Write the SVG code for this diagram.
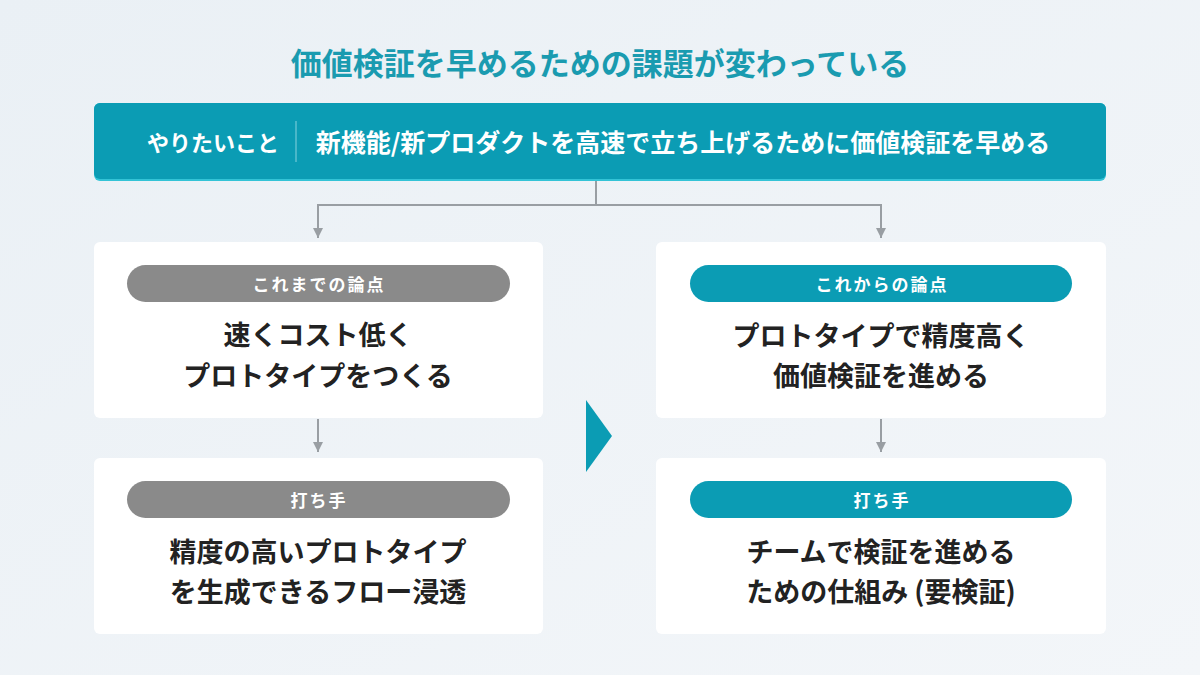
<svg xmlns="http://www.w3.org/2000/svg" width="1200" height="675" viewBox="0 0 1200 675">
<defs>
<linearGradient id="bg" x1="0" y1="0" x2="1" y2="1">
<stop offset="0" stop-color="#eaf0f5"/>
<stop offset="1" stop-color="#f3f6f9"/>
</linearGradient>
<marker id="ah" viewBox="0 0 10 10" refX="10" refY="5" markerWidth="10" markerHeight="10" markerUnits="userSpaceOnUse" orient="auto">
<path d="M0,0 L10,5 L0,10 Z" fill="#999ea3"/>
</marker>
<style>
text{font-family:"Noto Sans CJK JP","Noto Sans",sans-serif;font-weight:700;text-anchor:middle;dominant-baseline:central}
.card{fill:#ffffff}
.pill-gray{fill:#8a8a8a}
.pill-teal{fill:#0b9cb4}
.pill-text{fill:#ffffff;font-size:17px;letter-spacing:2px}
.main{fill:#222222;font-size:27px}
.conn{fill:none;stroke:#999ea3;stroke-width:2}
</style>
</defs>
<rect width="1200" height="675" fill="url(#bg)"/>
<text x="600" y="61" fill="#1a9bb0" font-size="31">価値検証を早めるための課題が変わっている</text>
<g id="goal">
<rect x="94" y="103" width="1012" height="78" rx="6" fill="#33c3d6"/>
<rect x="94" y="103" width="1012" height="76" rx="6" fill="#0b9cb4"/>
<text x="213" y="141" fill="#ffffff" font-size="22">やりたいこと</text>
<line x1="296" y1="121" x2="296" y2="162" stroke="#5fc0d0" stroke-width="1.5"/>
<text x="683" y="141" fill="#ffffff" font-size="25">新機能/新プロダクトを高速で立ち上げるために価値検証を早める</text>
</g>
<g id="connectors">
<path class="conn" d="M596,181 V205 H318 V238" marker-end="url(#ah)"/>
<path class="conn" d="M596,205 H881 V238" marker-end="url(#ah)"/>
<path class="conn" d="M318,419 V452" marker-end="url(#ah)"/>
<path class="conn" d="M881,419 V452" marker-end="url(#ah)"/>
<polygon points="586,400 612,436 586,472" fill="#0b9cb4"/>
</g>
<g id="left-top">
<rect class="card" x="94" y="242" width="449" height="176" rx="6"/>
<rect class="pill-gray" x="127" y="265" width="383" height="37" rx="18.5"/>
<text class="pill-text" x="319" y="283">これまでの論点</text>
<text class="main" x="318" y="333">速くコスト低く</text>
<text class="main" x="318" y="374">プロトタイプをつくる</text>
</g>
<g id="left-bottom">
<rect class="card" x="94" y="458" width="449" height="176" rx="6"/>
<rect class="pill-gray" x="127" y="481" width="383" height="37" rx="18.5"/>
<text class="pill-text" x="319" y="499">打ち手</text>
<text class="main" x="318" y="550">精度の高いプロトタイプ</text>
<text class="main" x="318" y="590">を生成できるフロー浸透</text>
</g>
<g id="right-top">
<rect class="card" x="656" y="242" width="450" height="176" rx="6"/>
<rect class="pill-teal" x="690" y="265" width="382" height="37" rx="18.5"/>
<text class="pill-text" x="882" y="283">これからの論点</text>
<text class="main" x="881" y="334">プロトタイプで精度高く</text>
<text class="main" x="881" y="374">価値検証を進める</text>
</g>
<g id="right-bottom">
<rect class="card" x="656" y="458" width="450" height="176" rx="6"/>
<rect class="pill-teal" x="690" y="481" width="382" height="37" rx="18.5"/>
<text class="pill-text" x="882" y="499">打ち手</text>
<text class="main" x="881" y="550">チームで検証を進める</text>
<text class="main" x="881" y="590">ための仕組み (要検証)</text>
</g>
</svg>
